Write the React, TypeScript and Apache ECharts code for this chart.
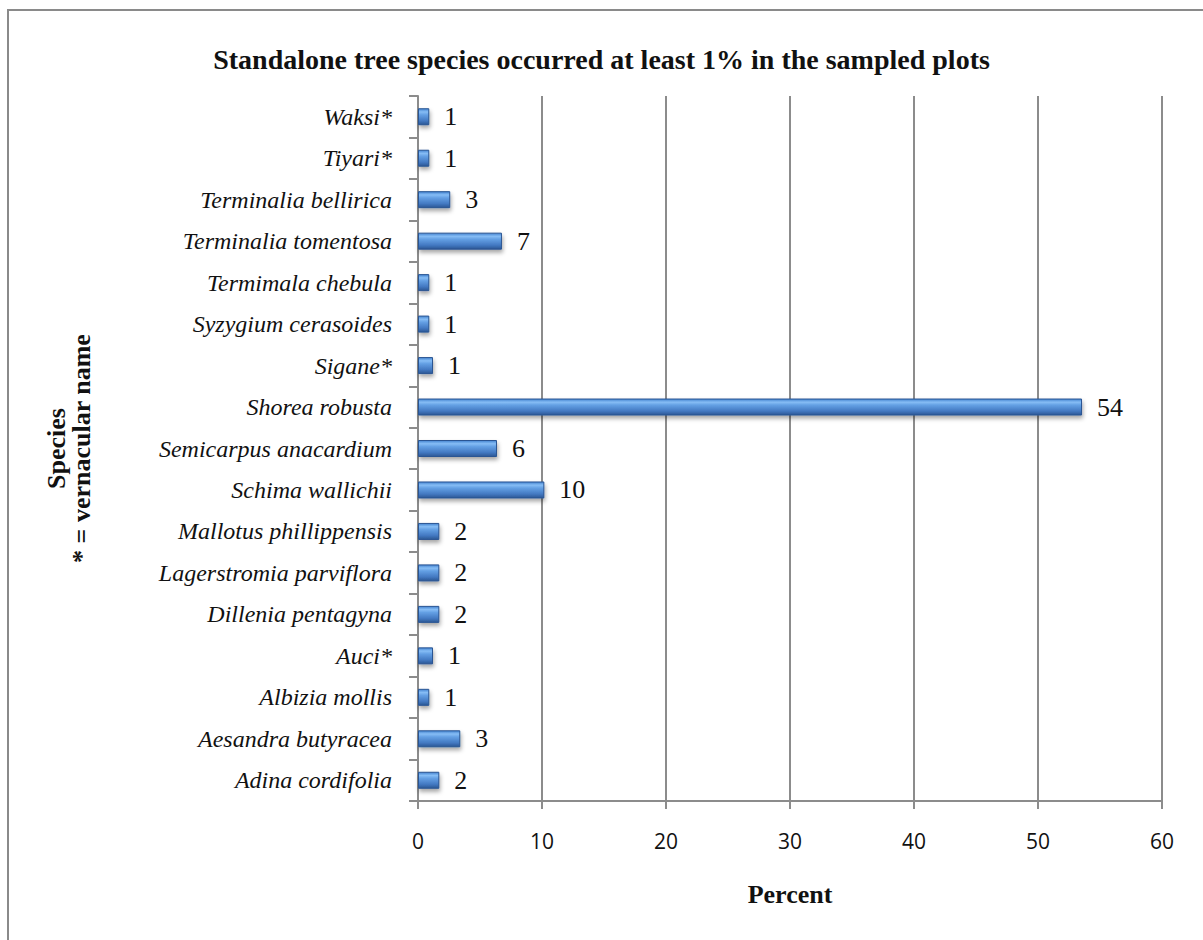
import React, { useEffect, useRef } from "react";
import * as echarts from "echarts";

const categories = [
  "Adina cordifolia",
  "Aesandra butyracea",
  "Albizia mollis",
  "Auci*",
  "Dillenia pentagyna",
  "Lagerstromia parviflora",
  "Mallotus phillippensis",
  "Schima wallichii",
  "Semicarpus anacardium",
  "Shorea robusta",
  "Sigane*",
  "Syzygium cerasoides",
  "Termimala chebula",
  "Terminalia tomentosa",
  "Terminalia bellirica",
  "Tiyari*",
  "Waksi*",
];

const percentValues = [
  1.72, 3.41, 0.91, 1.21, 1.72, 1.72, 1.72, 10.19, 6.37, 53.55, 1.21, 0.91,
  0.91, 6.77, 2.6, 0.91, 0.91,
];

const xTicks = [0, 10, 20, 30, 40, 50, 60];

const SERIF = "'Liberation Serif', 'Times New Roman', serif";

export default function App() {
  const ref = useRef<HTMLDivElement>(null);
  useEffect(() => {
    if (!ref.current) return;
    const chart = echarts.init(ref.current, undefined, { renderer: "svg" });
    const barGradient = new echarts.graphic.LinearGradient(0, 0, 0, 1, [
      { offset: 0, color: "#4383d0" },
      { offset: 0.2, color: "#86bdf5" },
      { offset: 0.38, color: "#64a0e4" },
      { offset: 0.75, color: "#4379c2" },
      { offset: 1, color: "#2b5794" },
    ]);
    chart.setOption({
      animation: false,
      backgroundColor: "#ffffff",
      title: {
        text: "Standalone tree species occurred at least 1% in the sampled plots",
        left: "center",
        top: 40,
        textStyle: {
          fontFamily: SERIF,
          fontWeight: "bold",
          fontSize: 28,
          color: "#111",
        },
      },
      graphic: [
        {
          type: "rect",
          shape: { x: 8, y: 10, width: 1230, height: 1000 },
          style: { fill: "none", stroke: "#8a8a8a", lineWidth: 2 },
          silent: true,
        },
      ],
      grid: { left: 418, right: 41, top: 96, bottom: 139, containLabel: false },
      xAxis: {
        type: "value",
        min: 0,
        max: 60,
        interval: 10,
        name: "Percent",
        nameLocation: "middle",
        nameGap: 80,
        nameTextStyle: {
          fontFamily: SERIF,
          fontWeight: "bold",
          fontSize: 26,
          color: "#111",
        },
        axisLine: { show: true, lineStyle: { color: "#8c8c8c", width: 2 } },
        axisTick: { show: true, length: 8, lineStyle: { color: "#8c8c8c", width: 2 } },
        axisLabel: {
          margin: 29,
          fontFamily: "'Open Sans', sans-serif",
          fontSize: 21,
          color: "#111",
          formatter: (v: number) => (xTicks.includes(v) ? String(v) : ""),
        },
        splitLine: { show: true, lineStyle: { color: "#8c8c8c", width: 2 } },
      },
      yAxis: {
        type: "category",
        data: categories,
        name: "Species\n* = vernacular name",
        nameLocation: "middle",
        nameGap: 324,
        nameRotate: 90,
        nameTextStyle: {
          fontFamily: SERIF,
          fontWeight: "bold",
          fontSize: 26,
          color: "#111",
          lineHeight: 25,
          align: "center",
        },
        axisLine: { show: true, lineStyle: { color: "#8c8c8c", width: 2 } },
        axisTick: { show: true, length: 9, lineStyle: { color: "#8c8c8c", width: 2 } },
        axisLabel: {
          margin: 26,
          fontFamily: SERIF,
          fontStyle: "italic",
          fontSize: 24,
          color: "#111",
        },
        splitLine: { show: false },
      },
      series: [
        {
          type: "bar",
          data: percentValues,
          barWidth: 17,
          itemStyle: {
            color: barGradient,
            borderColor: "#2a5593",
            borderWidth: 1,
            shadowColor: "rgba(0,0,0,0.35)",
            shadowBlur: 4,
            shadowOffsetX: 1,
            shadowOffsetY: 3,
          },
          label: {
            show: true,
            position: "right",
            distance: 15,
            fontFamily: SERIF,
            fontSize: 26,
            color: "#111",
            formatter: (p: any) => String(Math.round(p.value)),
          },
        },
      ],
    });
    return () => chart.dispose();
  }, []);
  return (
    <div
      ref={ref}
      style={{ position: "absolute", left: 0, top: 0, width: 1203, height: 940 }}
    />
  );
}
